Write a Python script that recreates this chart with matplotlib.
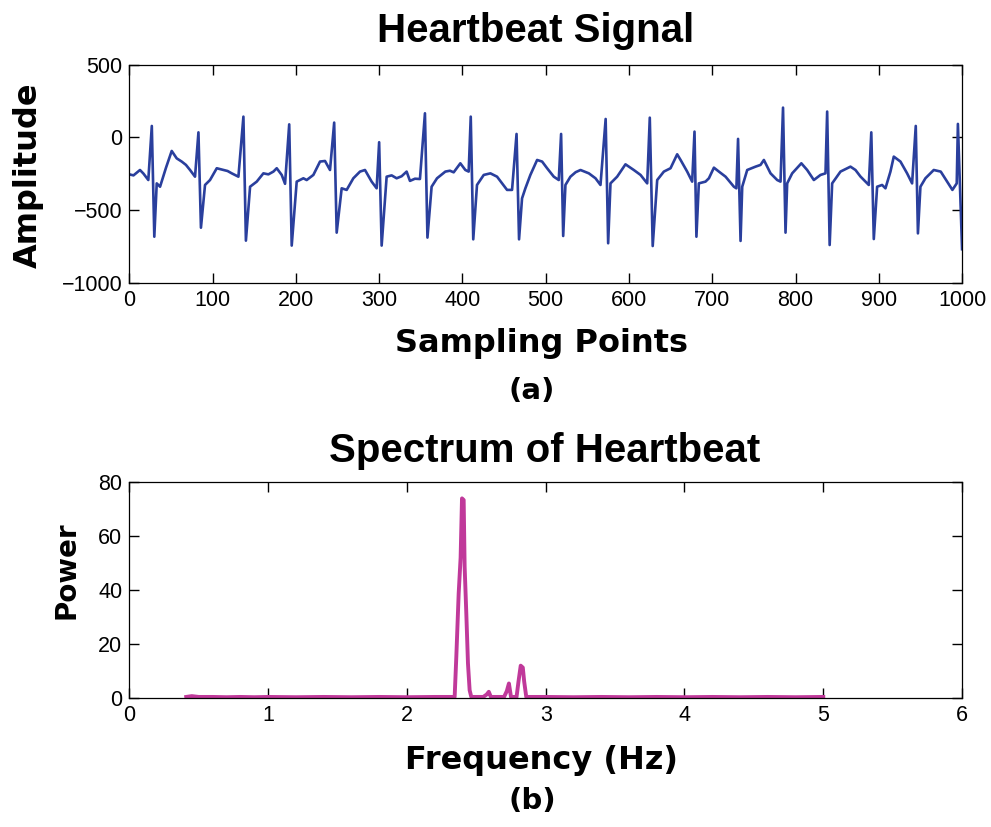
import numpy as np
import matplotlib
matplotlib.use('Agg')
import matplotlib.pyplot as plt

# --- heartbeat signal: values ---
# baseline knots between the beats (sample, amplitude)
base_x = [0, 5, 12.8, 17, 22.8, 32.9, 36.9, 44, 50.9, 56.9, 62.9, 68, 72.9, 78.9,
          90.9, 96.9, 105, 113, 118, 123, 131,
          145, 153, 161, 167, 173, 177, 183, 187,
          201, 209, 213, 221, 229, 235, 241,
          255, 261, 269, 277, 283, 291, 297,
          309, 315, 321, 327, 333, 337, 343, 349,
          363, 369.5, 379.5, 385, 389.5, 397.5, 403.5, 407.5,
          417.5, 425.6, 433.6, 441.6, 447.6, 453.6, 459.6,
          471.6, 475.6, 481.6, 489.7, 495.7, 501.7, 509.7, 515.7,
          523.7, 529.7, 536, 541.8, 551.8, 559.8, 565.8,
          577.8, 585.8, 595.8, 605.8, 613.9, 621.9,
          633.9, 641.9, 649.9, 657.9, 662, 669.9, 675.9,
          683.9, 691.9, 696, 702, 708, 716, 726, 729,
          736, 742, 752, 758, 762, 770, 778, 782,
          790, 796, 807, 814, 822, 830, 836,
          844, 854, 866, 872, 878, 884, 888,
          898, 904, 908, 914, 918, 926, 934, 940,
          950, 956, 966, 974.4, 982, 988.4, 993.6]
base_y = [-255, -262, -225, -250, -294, -317, -340, -210, -94, -145, -167, -190, -225, -271,
          -328, -294, -213, -225, -232, -248, -271,
          -340, -305, -248, -255, -236, -213, -259, -320,
          -305, -282, -294, -259, -167, -163, -225,
          -351, -362, -282, -236, -225, -305, -351,
          -271, -262, -282, -268, -236, -300, -285, -287,
          -340, -282, -236, -230, -241, -179, -225, -236,
          -328, -259, -248, -271, -317, -362, -362,
          -420, -351, -259, -156, -167, -213, -271, -294,
          -328, -271, -240, -225, -248, -282, -328,
          -317, -271, -186, -225, -259, -317,
          -294, -236, -213, -117, -156, -236, -305,
          -317, -305, -282, -209, -236, -271, -340, -351,
          -340, -225, -202, -190, -156, -248, -294, -305,
          -317, -248, -179, -225, -294, -259, -248,
          -317, -236, -202, -225, -270, -305, -328,
          -340, -328, -351, -236, -133, -167, -248, -317,
          -340, -282, -225, -236, -305, -362, -317]

# R peaks and S troughs of the 19 beats
r_x = [27, 83, 137, 192, 246, 300, 355, 410, 465, 518.5,
       572, 625, 678.7, 731, 785, 838, 891, 944.4, 995]
r_y = [78, 34, 142, 89, 101, -34, 165, 142, 23, 23,
       126, 135, 39, -11, 204, 177, 34, 78, 92]
s_x = [30, 86, 140, 195, 249, 303, 358, 413, 468, 521,
       575, 628.5, 681, 734, 788, 841, 894, 947, 1000]
s_y = [-684, -622, -711, -745, -656, -745, -690, -702, -702, -679,
       -729, -748, -684, -713, -656, -741, -700, -661, -770]

# --- spectrum: values ---
spec_f = [0.41, 0.45, 0.5, 0.6, 0.7, 0.8, 0.9, 1.0, 1.2, 1.4, 1.6, 1.8,
          2.0, 2.2, 2.344, 2.356, 2.373, 2.387, 2.397, 2.409, 2.416, 2.428,
          2.44, 2.452, 2.464, 2.55, 2.575, 2.59, 2.605, 2.70, 2.72, 2.735,
          2.75, 2.79, 2.804, 2.82, 2.835, 2.845, 2.86, 2.9, 3.0, 3.2, 3.4,
          3.6, 3.8, 4.0, 4.2, 4.4, 4.6, 4.8, 5.0]
spec_p = [0.3, 0.6, 0.3, 0.3, 0.2, 0.3, 0.2, 0.3, 0.2, 0.3, 0.2, 0.3,
          0.2, 0.3, 0.3, 15.2, 38.7, 52.0, 74.0, 73.4, 48.6, 31.3,
          12.7, 2.8, 0.3, 0.3, 1.2, 2.2, 0.3, 0.3, 2.5, 5.3,
          0.3, 0.3, 6.0, 11.9, 11.2, 6.0, 0.3, 0.3, 0.3, 0.2, 0.3,
          0.2, 0.3, 0.2, 0.3, 0.2, 0.3, 0.2, 0.3]

sig_x = np.array(base_x + r_x + s_x)
sig_y = np.array(base_y + r_y + s_y)
order = np.argsort(sig_x, kind='stable')
sig_x, sig_y = sig_x[order], sig_y[order]

title_font = 'Liberation Sans'
tick_font = 'Liberation Sans'
label_font = 'DejaVu Sans'

fig = plt.figure(figsize=(9.91, 8.27), dpi=100)
ax1 = fig.add_axes([0.1305, 0.6582, 0.8403, 0.2637])
ax2 = fig.add_axes([0.1305, 0.1563, 0.8403, 0.2606])

ax1.plot(sig_x, sig_y, color='#2a3f9d', lw=1.9)
ax1.set_xlim(0, 1000)
ax1.set_ylim(-1000, 500)
ax1.set_xticks(range(0, 1001, 100))
ax1.set_yticks([-1000, -500, 0, 500])

ax2.plot(spec_f, spec_p, color='#c0399a', lw=2.8)
ax2.set_xlim(0, 6)
ax2.set_ylim(0, 80)
ax2.set_xticks(range(0, 7))
ax2.set_yticks([0, 20, 40, 60, 80])

for ax in (ax1, ax2):
    ax.tick_params(direction='in', top=True, right=True, length=7, width=1,
                   labelsize=15.5, pad=5)
    for lab in ax.get_xticklabels() + ax.get_yticklabels():
        lab.set_family(tick_font)
    for sp in ax.spines.values():
        sp.set_linewidth(0.9)

fig.text(0.54, 0.962, 'Heartbeat Signal', ha='center', va='center',
         fontsize=29, fontweight='bold', family=title_font)
fig.text(0.55, 0.455, 'Spectrum of Heartbeat', ha='center', va='center',
         fontsize=29, fontweight='bold', family=title_font)

fig.text(0.029, 0.788, 'Amplitude', rotation=90, ha='center', va='center',
         fontsize=23, fontweight='bold', family=label_font)
fig.text(0.546, 0.585, 'Sampling Points', ha='center', va='center',
         fontsize=23, fontweight='bold', family=label_font)
fig.text(0.537, 0.527, '(a)', ha='center', va='center',
         fontsize=21, fontweight='bold', family=label_font)

fig.text(0.067, 0.31, 'Power', rotation=90, ha='center', va='center',
         fontsize=20, fontweight='bold', family=label_font)
fig.text(0.546, 0.08, 'Frequency (Hz)', ha='center', va='center',
         fontsize=23, fontweight='bold', family=label_font)
fig.text(0.537, 0.032, '(b)', ha='center', va='center',
         fontsize=21, fontweight='bold', family=label_font)

fig.savefig('out.png', dpi=100)
